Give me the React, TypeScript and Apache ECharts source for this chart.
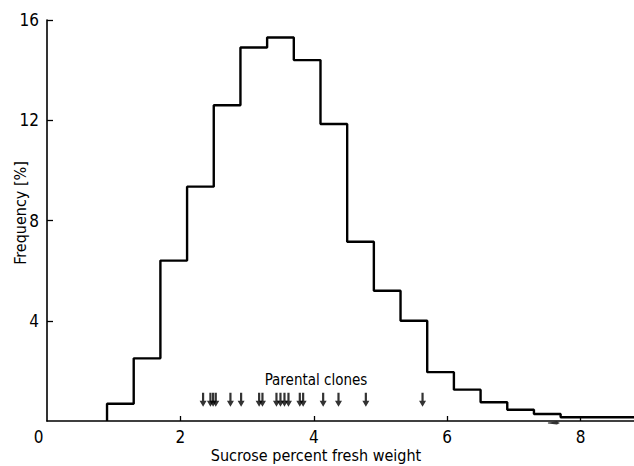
import React, { useEffect, useRef } from "react";
import * as echarts from "echarts";

// Histogram bins (left edges, width 0.4) and frequencies in %
const binStarts = [0.9, 1.3, 1.7, 2.1, 2.5, 2.9, 3.3, 3.7, 4.1, 4.5, 4.9, 5.3, 5.7, 6.1, 6.5, 6.9, 7.3, 7.7, 8.1, 8.5];
const frequencies = [0.69, 2.5, 6.4, 9.35, 12.6, 14.9, 15.3, 14.4, 11.85, 7.15, 5.2, 4.0, 1.95, 1.25, 0.75, 0.45, 0.28, 0.15, 0.15, 0.15];
const binWidth = 0.4;

// Sucrose content of the parental clones (arrows)
const parentalClones = [2.34, 2.45, 2.49, 2.53, 2.75, 2.91, 3.18, 3.23, 3.44, 3.5, 3.56, 3.62, 3.79, 3.84, 4.14, 4.37, 4.78, 5.63];
const arrowLevel = 0.85;

const xTickValues = [2, 4, 6, 8];
const xLabelValues = [0, 2, 4, 6, 8];
const yTickValues = [4, 8, 12, 16];

const xTitle = "Sucrose percent fresh weight";
const yTitle = "Frequency [%]";
const clonesLabel = "Parental clones";

const FONT = "'DejaVu Sans Condensed', 'Liberation Sans Narrow', 'Roboto Condensed', 'DejaVu Sans', sans-serif";

export default function App() {
  const ref = useRef<HTMLDivElement>(null);

  useEffect(() => {
    if (!ref.current) return;
    const chart = echarts.init(ref.current, undefined, { renderer: "svg" });

    const stepData: number[][] = [[binStarts[0], 0]];
    binStarts.forEach((s, i) => stepData.push([s, frequencies[i]]));
    stepData.push([binStarts[binStarts.length - 1] + binWidth, frequencies[frequencies.length - 1]]);

    chart.setOption({
      animation: false,
      backgroundColor: "#ffffff",
      grid: { left: 47, right: 0, top: 20, bottom: 45 },
      xAxis: {
        type: "value",
        min: 0,
        max: 8.8,
        interval: 2,
        splitLine: { show: false },
        axisLine: { show: true, lineStyle: { color: "#000", width: 1.6 } },
        axisTick: { show: true, inside: true, length: 5, customValues: xTickValues, lineStyle: { color: "#000", width: 1.3 } },
        axisLabel: {
          customValues: xLabelValues,
          margin: 7,
          color: "#000",
          fontSize: 17,
          fontFamily: FONT,
          formatter: (v: number) => (v === 0 ? "{z|0}" : String(v)),
          rich: { z: { fontSize: 17, fontFamily: FONT, color: "#000", padding: [0, 17, 0, 0] } },
        },
      },
      yAxis: {
        type: "value",
        min: 0,
        max: 16,
        interval: 4,
        splitLine: { show: false },
        axisLine: { show: true, lineStyle: { color: "#000", width: 1.6 } },
        axisTick: { show: true, inside: true, length: 6, customValues: yTickValues, lineStyle: { color: "#000", width: 1.3 } },
        axisLabel: {
          margin: 8,
          color: "#000",
          fontSize: 17,
          fontFamily: FONT,
          formatter: (v: number) => (v === 0 ? "" : String(v)),
        },
      },
      series: [
        {
          type: "line",
          data: stepData,
          step: "end",
          symbol: "none",
          lineStyle: { color: "#000", width: 2.4 },
          silent: true,
        },
        {
          type: "scatter",
          data: parentalClones.map((v) => [v, arrowLevel]),
          symbol: "path://M2.4,0 L4.6,0 L4.6,8 L7,8 L3.5,14 L0,8 L2.4,8 Z",
          symbolSize: [7, 14],
          itemStyle: { color: "#000" },
          silent: true,
        },
        {
          type: "scatter",
          data: [[7.6, -0.08]],
          clip: false,
          symbol: "path://M0,1 L9,0 L12,1.5 L9,3 L0,2 Z",
          symbolSize: [12, 3],
          itemStyle: { color: "#000" },
          silent: true,
        },
      ],
      graphic: [
        {
          type: "text",
          x: 316,
          y: 380,
          style: { text: clonesLabel, fill: "#000", font: `15px ${FONT}`, textAlign: "center", textVerticalAlign: "middle" },
        },
        {
          type: "text",
          x: 316,
          y: 455,
          style: { text: xTitle, fill: "#000", font: `16px ${FONT}`, textAlign: "center", textVerticalAlign: "middle" },
        },
        {
          type: "text",
          x: 20,
          y: 213,
          rotation: Math.PI / 2,
          style: { text: yTitle, fill: "#000", font: `16px ${FONT}`, textAlign: "center", textVerticalAlign: "middle" },
        },
      ],
    });

    return () => chart.dispose();
  }, []);

  return (
    <div
      ref={ref}
      style={{ position: "fixed", left: 0, top: 0, width: 634, height: 466, background: "#fff" }}
    />
  );
}
